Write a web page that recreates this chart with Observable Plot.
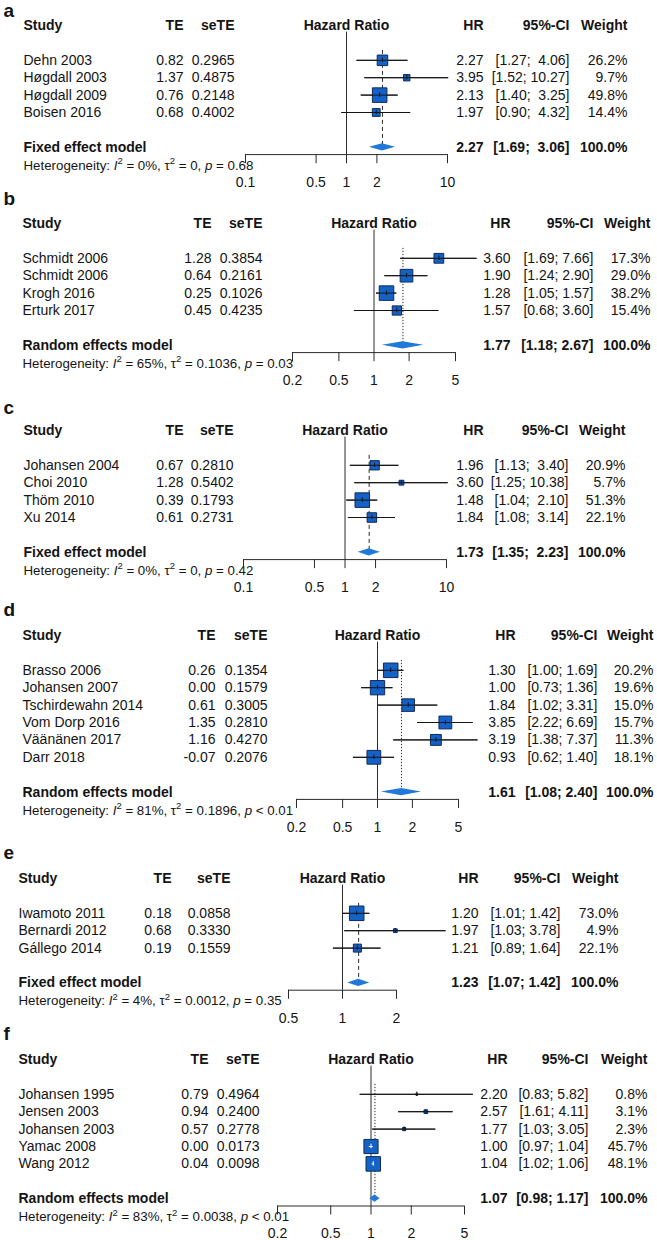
<!DOCTYPE html>
<html><head><meta charset="utf-8">
<script src="https://cdn.jsdelivr.net/npm/d3@7"></script>
<script src="https://cdn.jsdelivr.net/npm/@observablehq/plot@0.6"></script>
<style>
body{margin:0;background:#fff;}
#root{position:relative;width:657px;height:1240px;overflow:hidden;background:#fff;}
.panel{position:absolute;left:0;}
.panel svg{display:block;}
</style></head><body><div id="root"></div>
<script>
// ---------- DATA ----------
const a_study = ["Dehn 2003", "Høgdall 2003", "Høgdall 2009", "Boisen 2016"];
const a_te = [0.82, 1.37, 0.76, 0.68];
const a_se = [0.2965, 0.4875, 0.2148, 0.4002];
const a_hr = [2.27, 3.95, 2.13, 1.97];
const a_lo = [1.27, 1.52, 1.40, 0.90];
const a_hi = [4.06, 10.27, 3.25, 4.32];
const a_w = [26.2, 9.7, 49.8, 14.4];
const a_ticks = [0.1, 0.5, 1, 2, 10];

const b_study = ["Schmidt 2006", "Schmidt 2006", "Krogh 2016", "Erturk 2017"];
const b_te = [1.28, 0.64, 0.25, 0.45];
const b_se = [0.3854, 0.2161, 0.1026, 0.4235];
const b_hr = [3.60, 1.90, 1.28, 1.57];
const b_lo = [1.69, 1.24, 1.05, 0.68];
const b_hi = [7.66, 2.90, 1.57, 3.60];
const b_w = [17.3, 29.0, 38.2, 15.4];
const b_ticks = [0.2, 0.5, 1, 2, 5];

const c_study = ["Johansen 2004", "Choi 2010", "Thöm 2010", "Xu 2014"];
const c_te = [0.67, 1.28, 0.39, 0.61];
const c_se = [0.2810, 0.5402, 0.1793, 0.2731];
const c_hr = [1.96, 3.60, 1.48, 1.84];
const c_lo = [1.13, 1.25, 1.04, 1.08];
const c_hi = [3.40, 10.38, 2.10, 3.14];
const c_w = [20.9, 5.7, 51.3, 22.1];
const c_ticks = [0.1, 0.5, 1, 2, 10];

const d_study = ["Brasso 2006", "Johansen 2007", "Tschirdewahn 2014", "Vom Dorp 2016", "Väänänen 2017", "Darr 2018"];
const d_te = [0.26, 0.00, 0.61, 1.35, 1.16, -0.07];
const d_se = [0.1354, 0.1579, 0.3005, 0.2810, 0.4270, 0.2076];
const d_hr = [1.30, 1.00, 1.84, 3.85, 3.19, 0.93];
const d_lo = [1.00, 0.73, 1.02, 2.22, 1.38, 0.62];
const d_hi = [1.69, 1.36, 3.31, 6.69, 7.37, 1.40];
const d_w = [20.2, 19.6, 15.0, 15.7, 11.3, 18.1];
const d_ticks = [0.2, 0.5, 1, 2, 5];

const e_study = ["Iwamoto 2011", "Bernardi 2012", "Gállego 2014"];
const e_te = [0.18, 0.68, 0.19];
const e_se = [0.0858, 0.3330, 0.1559];
const e_hr = [1.20, 1.97, 1.21];
const e_lo = [1.01, 1.03, 0.89];
const e_hi = [1.42, 3.78, 1.64];
const e_w = [73.0, 4.9, 22.1];
const e_ticks = [0.5, 1, 2];

const f_study = ["Johansen 1995", "Jensen 2003", "Johansen 2003", "Yamac 2008", "Wang 2012"];
const f_te = [0.79, 0.94, 0.57, 0.00, 0.04];
const f_se = [0.4964, 0.2400, 0.2778, 0.0173, 0.0098];
const f_hr = [2.20, 2.57, 1.77, 1.00, 1.04];
const f_lo = [0.83, 1.61, 1.03, 0.97, 1.02];
const f_hi = [5.82, 4.11, 3.05, 1.04, 1.06];
const f_w = [0.8, 3.1, 2.3, 45.7, 48.1];
const f_ticks = [0.2, 0.5, 1, 2, 5];

const panelLetter = ["a", "b", "c", "d", "e", "f"];
const modelLabel = ["Fixed effect model", "Random effects model", "Fixed effect model",
                    "Random effects model", "Fixed effect model", "Random effects model"];
const modelType = ["fixed", "random", "fixed", "random", "fixed", "random"];
const modelHR = [2.27, 1.77, 1.73, 1.61, 1.23, 1.07];
const modelLo = [1.69, 1.18, 1.35, 1.08, 1.07, 0.98];
const modelHi = [3.06, 2.67, 2.23, 2.40, 1.42, 1.17];
const modelW = [100, 100, 100, 100, 100, 100];
const hetI2 = [0, 65, 0, 81, 4, 83];
const hetTau2 = ["0", "0.1036", "0", "0.1896", "0.0012", "0.0038"];
const hetP = ["= 0.68", "= 0.03", "= 0.42", "< 0.01", "= 0.35", "< 0.01"];

const PANELS = [
  {study: a_study, te: a_te, se: a_se, hr: a_hr, lo: a_lo, hi: a_hi, w: a_w, ticks: a_ticks},
  {study: b_study, te: b_te, se: b_se, hr: b_hr, lo: b_lo, hi: b_hi, w: b_w, ticks: b_ticks},
  {study: c_study, te: c_te, se: c_se, hr: c_hr, lo: c_lo, hi: c_hi, w: c_w, ticks: c_ticks},
  {study: d_study, te: d_te, se: d_se, hr: d_hr, lo: d_lo, hi: d_hi, w: d_w, ticks: d_ticks},
  {study: e_study, te: e_te, se: e_se, hr: e_hr, lo: e_lo, hi: e_hi, w: e_w, ticks: e_ticks},
  {study: f_study, te: f_te, se: f_se, hr: f_hr, lo: f_lo, hi: f_hi, w: f_w, ticks: f_ticks}
];

// ---------- LAYOUT (pixels) ----------
const layout = {
  a: {top: 0,    height: 196, headerY: 25,   letterY: 10,   cols: {study: 23, te: 183, se: 234, hr: 483, ci: 569, w: 627}, domain: [0.1, 10], range: [245, 447]},
  b: {top: 196,  height: 202, headerY: 223,  letterY: 198,  cols: {study: 22, te: 211, se: 262, hr: 510, ci: 593, w: 650}, domain: [0.2, 5],  range: [292, 455]},
  c: {top: 398,  height: 200, headerY: 430,  letterY: 407,  cols: {study: 23, te: 183, se: 233, hr: 483, ci: 568, w: 625}, domain: [0.1, 10], range: [243, 446]},
  d: {top: 598,  height: 240, headerY: 635,  letterY: 609,  cols: {study: 22, te: 215, se: 267, hr: 515, ci: 597, w: 653}, domain: [0.2, 5],  range: [296, 458]},
  e: {top: 838,  height: 186, headerY: 878,  letterY: 852,  cols: {study: 18, te: 171, se: 230, hr: 478, ci: 560, w: 618}, domain: [0.5, 2],  range: [288, 396]},
  f: {top: 1024, height: 216, headerY: 1059, letterY: 1033, cols: {study: 18, te: 208, se: 259, hr: 507, ci: 588, w: 647}, domain: [0.2, 5],  range: [277, 464]}
};
const RH = 17.4;      // row height px
const RMAX = 8.2;     // radius of largest square
const FONT = "Liberation Sans, Arial, Helvetica, sans-serif";
const INK = "#141414";
const SQ_FILL = "#1462c6", SQ_STROKE = "#102a5a", DIAMOND = "#1f78da";

const root = document.getElementById("root");

PANELS.forEach((P, i) => {
  const L = layout[panelLetter[i]];
  const n = P.study.length;
  const rows = P.study.map((s, k) => ({study: s, te: P.te[k], se: P.se[k], hr: P.hr[k], lo: P.lo[k], hi: P.hi[k], w: P.w[k], row: k + 2}));
  const mRow = n + 3, hRow = n + 4.05, aRow = n + 3.42, tlRow = aRow + 28 / RH;
  const model = {label: modelLabel[i], hr: modelHR[i], lo: modelLo[i], hi: modelHi[i], w: modelW[i], row: mRow};
  const hiW = d3.max([...rows, model], d => d.hi.toFixed(2).length);
  const ci = d => "[" + d.lo.toFixed(2) + "; " + "\u00a0".repeat(hiW - d.hi.toFixed(2).length) + d.hi.toFixed(2) + "]";
  const pxDec = (L.range[1] - L.range[0]) / Math.log10(L.domain[1] / L.domain[0]);
  const wmax = d3.max(rows, d => d.w);
  rows.forEach(d => {
    const hs = 0.886 * RMAX * Math.sqrt(d.w / wmax);
    d.inside = Math.log10(d.hi / d.hr) * pxDec < hs && Math.log10(d.hr / d.lo) * pxDec < hs;
  });
  const top = L.top;
  const letterRow = (L.letterY - L.headerY) / RH;
  const diamond = [
    {x: model.lo, y1: mRow, y2: mRow},
    {x: model.hr, y1: mRow - 0.21, y2: mRow + 0.21},
    {x: model.hi, y1: mRow, y2: mRow}
  ];
  const T = (data, o) => Plot.text(data, {frameAnchor: "left", fontSize: 14, fill: INK, fontFamily: FONT, ...o});
  const C = L.cols;
  const hetText = "Heterogeneity: I2 = " + hetI2[i] + "%, t2 = " + hetTau2[i] + ", p " + hetP[i];

  const svg = Plot.plot({
    width: 657, height: L.height,
    marginTop: 0, marginRight: 0, marginBottom: 0, marginLeft: 0,
    x: {type: "log", domain: L.domain, range: L.range, axis: null},
    y: {type: "linear", domain: [0, 1], range: [L.headerY - top, L.headerY - top + RH], axis: null},
    r: {range: [0, RMAX]},
    style: {fontFamily: FONT, background: "#fff", color: INK, overflow: "visible"},
    marks: [
      // panel letter
      T([panelLetter[i]], {y: () => letterRow, dx: 3, text: d => d, textAnchor: "start", fontSize: 19, fontWeight: "bold"}),
      // header
      T([0], {y: () => 0, dx: C.study, text: () => "Study", textAnchor: "start", fontWeight: "bold"}),
      T([0], {y: () => 0, dx: C.te, text: () => "TE", textAnchor: "end", fontWeight: "bold"}),
      T([0], {y: () => 0, dx: C.se, text: () => "seTE", textAnchor: "end", fontWeight: "bold"}),
      Plot.text([0], {x: () => 1, y: () => 0, text: () => "Hazard Ratio", textAnchor: "middle", fontWeight: "bold", fontSize: 14, fill: INK, fontFamily: FONT}),
      T([0], {y: () => 0, dx: C.hr, text: () => "HR", textAnchor: "end", fontWeight: "bold"}),
      T([0], {y: () => 0, dx: C.ci, text: () => "95%-CI", textAnchor: "end", fontWeight: "bold"}),
      T([0], {y: () => 0, dx: C.w, text: () => "Weight", textAnchor: "end", fontWeight: "bold"}),
      // study rows
      T(rows, {y: "row", dx: C.study, text: "study", textAnchor: "start"}),
      T(rows, {y: "row", dx: C.te, text: d => d.te.toFixed(2), textAnchor: "end"}),
      T(rows, {y: "row", dx: C.se, text: d => d.se.toFixed(4), textAnchor: "end"}),
      T(rows, {y: "row", dx: C.hr, text: d => d.hr.toFixed(2), textAnchor: "end"}),
      T(rows, {y: "row", dx: C.ci, text: ci, textAnchor: "end"}),
      T(rows, {y: "row", dx: C.w, text: d => d.w.toFixed(1) + "%", textAnchor: "end"}),
      // model row
      T([model], {y: "row", dx: C.study, text: "label", textAnchor: "start", fontWeight: "bold"}),
      T([model], {y: "row", dx: C.hr, text: d => d.hr.toFixed(2), textAnchor: "end", fontWeight: "bold"}),
      T([model], {y: "row", dx: C.ci, text: ci, textAnchor: "end", fontWeight: "bold"}),
      T([model], {y: "row", dx: C.w, text: d => d.w.toFixed(1) + "%", textAnchor: "end", fontWeight: "bold"}),
      // heterogeneity
      T([model], {y: () => hRow, dx: C.study, text: () => hetText, textAnchor: "start", fontSize: 13.3}),
      // reference line at 1
      Plot.ruleX([1], {x: d => d, y1: () => 0.38, y2: () => aRow, stroke: "#2a2a2a", strokeWidth: 1}),
      // pooled estimate line
      Plot.ruleX([model], {x: "hr", y1: () => 1.43, y2: () => mRow, stroke: "#2a2a2a", strokeWidth: 1,
        strokeDasharray: modelType[i] === "fixed" ? "4,3" : "1.3,1.7"}),
      // confidence intervals (under squares)
      Plot.ruleY(rows, {x1: "lo", x2: "hi", y: "row", stroke: INK, strokeWidth: 1}),
      // squares
      Plot.dot(rows, {x: "hr", y: "row", r: "w", symbol: "square", fill: SQ_FILL, stroke: SQ_STROKE, strokeWidth: 1}),
      // CI lines over squares
      Plot.ruleY(rows.filter(d => !d.inside), {x1: "lo", x2: "hi", y: "row", stroke: INK, strokeWidth: 1}),
      Plot.ruleY(rows.filter(d => d.inside), {x1: "lo", x2: "hi", y: "row", stroke: "white", strokeWidth: 1}),
      Plot.ruleX(rows.filter(d => !d.inside), {x: "hr", y1: d => d.row - 0.13, y2: d => d.row + 0.13, stroke: INK, strokeWidth: 1}),
      Plot.ruleX(rows.filter(d => d.inside), {x: "hr", y1: d => d.row - 0.13, y2: d => d.row + 0.13, stroke: "white", strokeWidth: 1}),
      // diamond
      Plot.areaY(diamond, {x: "x", y1: "y1", y2: "y2", fill: DIAMOND, curve: "linear"}),
      // axis
      Plot.ruleY([0], {x1: () => d3.min(P.ticks), x2: () => d3.max(P.ticks), y: () => aRow, stroke: "#2a2a2a", strokeWidth: 1}),
      Plot.ruleX(P.ticks, {x: d => d, y1: () => aRow, y2: () => aRow + 0.52, stroke: "#2a2a2a", strokeWidth: 1}),
      Plot.text(P.ticks, {x: d => d, y: () => tlRow, text: d => String(d), fontSize: 14, fill: INK, fontFamily: FONT})
    ]
  });

  // rich heterogeneity text (italic symbols and superscripts)
  d3.select(svg).selectAll("text").filter(function () { return this.textContent.startsWith("Heterogeneity"); })
    .each(function () {
      const el = d3.select(this).style("white-space", "pre");
      el.text(null);
      const parts = [
        ["Heterogeneity: ", null], ["I", "it"], ["2", "sup"], [" = " + hetI2[i] + "%, ", "post"],
        ["\u03c4", null], ["2", "sup"], [" = " + hetTau2[i] + ", ", "post"], ["p", "it"], [" " + hetP[i], null]
      ];
      parts.forEach(([s, k]) => {
        const ts = el.append("tspan").text(s);
        if (k === "it") ts.attr("font-style", "italic");
        if (k === "sup") ts.attr("font-size", 9.5).attr("dy", -5.5);
        if (k === "post") ts.attr("dy", 5.5);
      });
    });

  const div = document.createElement("div");
  div.className = "panel";
  div.style.top = top + "px";
  div.appendChild(svg);
  root.appendChild(div);
});
</script>
</body></html>
